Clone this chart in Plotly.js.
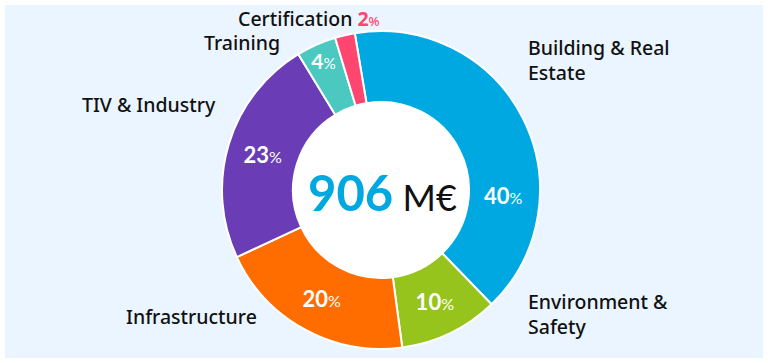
<!DOCTYPE html>
<html>
<head>
<meta charset="utf-8">
<script src="https://cdn.plot.ly/plotly-3.0.1.min.js"></script>
<style>html,body{margin:0;padding:0;background:#fff;}#chart{width:768px;height:363px;}</style>
</head>
<body>
<div id="chart"></div>
<script>
const categories = ['Building & Real Estate', 'Environment & Safety', 'Infrastructure', 'TIV & Industry', 'Training', 'Certification'];
const shares = [40, 10, 20, 23, 4, 2];
const sliceColors = ['#00A8E1', '#97C41C', '#FF6C00', '#6A3DB7', '#4BC9C0', '#FF4670'];
const labelTexts = ['Building & Real<br>Estate', 'Environment &<br>Safety', 'Infrastructure', 'TIV & Industry', 'Training', 'Certification'];
const totalValue = '906';
const totalUnit = 'M€';

const W = 768, H = 363;
const px = x => x / W;
const py = y => 1 - y / H;
const CX = 381, CY = 190, R = 159, RH = 88;

const pctHtml = (v, big, small) =>
  "<b>" + v + "</b><span style='font-size:" + small + "px'>%</span>";

// inside text drawn by the pie for the middle slices; first (placed off-centre in the
// reference) and last (shown next to its label) handled by annotations
const insideTemplates = shares.map((s, i) =>
  (i === 0 || i === shares.length - 1) ? '' : pctHtml('%{customdata}', 22, 16));

const trace = {
  type: 'pie',
  labels: categories,
  values: shares,
  customdata: shares,
  sort: false,
  direction: 'clockwise',
  rotation: -9.5,
  hole: RH / R,
  marker: {colors: sliceColors, line: {color: '#ffffff', width: 2}},
  texttemplate: insideTemplates,
  textposition: 'inside',
  insidetextorientation: 'horizontal',
  insidetextfont: {family: 'Lato, sans-serif', size: 22, color: '#ffffff'},
  hoverinfo: 'none',
  showlegend: false,
  domain: {x: [px(CX - R), px(CX + R)], y: [py(CY + R), py(CY - R)]}
};

const labelPos = [
  {x: 526, y: 60},
  {x: 526, y: 314},
  {x: 124, y: 316},
  {x: 80, y: 105},
  {x: 202, y: 43},
  {x: 236, y: 18}
];

const labelFont = {family: "'Noto Sans', sans-serif", size: 19.5, color: '#111111', weight: 500};

const annotations = categories.map((c, i) => {
  let t = labelTexts[i];
  if (i === categories.length - 1) {
    t = t + " <span style='color:" + sliceColors[i] + "'>" + pctHtml(shares[i], 17, 13) + "</span>";
  }
  return {
    xref: 'paper', yref: 'paper', x: px(labelPos[i].x), y: py(labelPos[i].y),
    xanchor: 'left', yanchor: 'middle', align: 'left', showarrow: false,
    text: t,
    font: labelFont
  };
});

// 40% label of the first slice
annotations.push({
  xref: 'paper', yref: 'paper', x: px(503), y: py(195), xanchor: 'center', yanchor: 'middle',
  showarrow: false, text: pctHtml(shares[0], 22, 16),
  font: {family: 'Lato, sans-serif', size: 22, color: '#ffffff'}
});

annotations.push({
  xref: 'paper', yref: 'paper', x: px(382), y: py(192), xanchor: 'center', yanchor: 'middle',
  showarrow: false,
  text: "<span style='color:#00A8E1;font-size:49px'><b>" + totalValue + "</b></span> <span style='font-size:36px'>" + totalUnit + "</span>",
  font: {family: 'Lato, sans-serif', size: 36, color: '#111111'}
});

const layout = {
  width: W, height: H,
  margin: {l: 0, r: 0, t: 0, b: 0},
  paper_bgcolor: '#ffffff',
  plot_bgcolor: '#ffffff',
  shapes: [{
    type: 'rect', xref: 'paper', yref: 'paper', layer: 'below',
    x0: px(5), x1: px(763), y0: py(358), y1: py(5),
    fillcolor: '#EBF5FF', line: {width: 0}
  }, {
    type: 'circle', xref: 'paper', yref: 'paper', layer: 'below',
    x0: px(CX - RH), x1: px(CX + RH), y0: py(CY + RH), y1: py(CY - RH),
    fillcolor: '#ffffff', line: {width: 0}
  }],
  annotations: annotations
};

Plotly.newPlot('chart', [trace], layout, {displayModeBar: false, staticPlot: true});
</script>
</body>
</html>
